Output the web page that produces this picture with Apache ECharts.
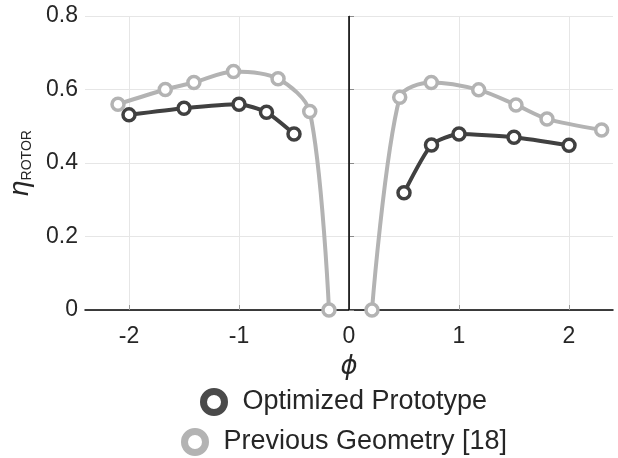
<!DOCTYPE html>
<html>
<head>
<meta charset="utf-8">
<script src="https://cdn.jsdelivr.net/npm/echarts@6/dist/echarts.min.js"></script>
<style>
html,body{margin:0;padding:0;background:#fff;}
#chart{width:618px;height:458px;}
</style>
</head>
<body>
<div id="chart"></div>
<script>
// data
var optLeft = [[-2, 0.531], [-1.5, 0.549], [-1, 0.56], [-0.75, 0.538], [-0.5, 0.479]];
var optRight = [[0.5, 0.319], [0.75, 0.449], [1, 0.479], [1.5, 0.47], [2, 0.448]];
var prevLeft = [[-2.1, 0.56], [-1.67, 0.6], [-1.41, 0.619], [-1.05, 0.649], [-0.645, 0.629], [-0.357, 0.54], [-0.182, 0]];
var prevRight = [[0.209, 0], [0.461, 0.579], [0.748, 0.619], [1.179, 0.599], [1.518, 0.558], [1.8, 0.52], [2.297, 0.49]];
var xTicks = [-2, -1, 0, 1, 2];
var yTicks = [0, 0.2, 0.4, 0.6, 0.8];

var nameOpt = 'Optimized Prototype';
var namePrev = 'Previous Geometry [18]';
var cDark = '#404040';
var cLight = '#b3b3b3';
var font = 'Liberation Sans, Arial, sans-serif';

var myChart = echarts.init(document.getElementById('chart'));

function mkSeries(name, data, color, smooth) {
    return {
        name: name,
        type: 'line',
        data: data,
        smooth: smooth,
        symbol: 'circle',
        symbolSize: 12,
        showAllSymbol: true,
        lineStyle: {color: color, width: 4},
        itemStyle: {color: '#fff', borderColor: color, borderWidth: 3.5},
        emphasis: {disabled: true},
        animation: false,
        z: color == cDark ? 4 : 3
    };
}

var series = [
    mkSeries(namePrev, prevLeft, cLight, 0.3),
    mkSeries(namePrev, prevRight, cLight, 0.3),
    mkSeries(nameOpt, optLeft, cDark, 0.2),
    mkSeries(nameOpt, optRight, cDark, 0.2)
];
// vertical line at phi = 0
series[0].markLine = {
    silent: true,
    symbol: 'none',
    label: {show: false},
    lineStyle: {color: '#000', width: 1.5, type: 'solid'},
    data: [{xAxis: 0}],
    animation: false
};

function mkLegend(name, color, left, top) {
    return {
        data: [{name: name, icon: 'circle', itemStyle: {color: '#fff', borderColor: color, borderWidth: 7}}],
        left: left, top: top,
        padding: 0,
        itemWidth: 47, itemHeight: 21,
        symbolKeepAspect: true,
        textStyle: {fontSize: 27, color: '#262626', fontFamily: font},
        selectedMode: false
    };
}

var option = {
    animation: false,
    textStyle: {fontFamily: font},
    grid: {left: 85, top: 16, right: 5, bottom: 148, containLabel: false, outerBoundsMode: 'none'},
    legend: [
        mkLegend(nameOpt, '#4a4a4a', 200, 388),
        mkLegend(namePrev, cLight, 181, 428)
    ],
    xAxis: {
        type: 'value',
        min: -2.4, max: 2.4,
        interval: 1,
        name: 'ϕ',
        nameLocation: 'middle',
        nameGap: 44,
        nameTextStyle: {fontSize: 26, fontStyle: 'italic', color: '#262626', fontFamily: 'DejaVu Sans'},
        axisLine: {show: true, onZero: false, lineStyle: {color: '#000', width: 1.5}},
        axisTick: {show: true, inside: true, length: 5, lineStyle: {color: '#999'},
            customValues: xTicks},
        axisLabel: {fontSize: 23, color: '#262626', margin: 15, customValues: xTicks,
            formatter: function (v) { return String(v); }},
        splitLine: {show: true, lineStyle: {color: '#e6e6e6', width: 1}}
    },
    yAxis: {
        type: 'value',
        min: 0, max: 0.8,
        interval: 0.2,
        name: '{a|η}{b|ROTOR}',
        nameLocation: 'middle',
        nameRotate: 90,
        nameGap: 51,
        nameTextStyle: {
            rich: {
                a: {fontSize: 28, fontStyle: 'italic', color: '#262626', fontFamily: font, verticalAlign: 'bottom'},
                b: {fontSize: 14, color: '#262626', fontFamily: font, verticalAlign: 'bottom'}
            }
        },
        axisLine: {show: true, lineStyle: {color: '#8c8c8c', width: 1}},
        axisTick: {show: true, inside: true, length: 5, lineStyle: {color: '#8c8c8c'}},
        axisLabel: {fontSize: 23, color: '#262626', margin: 7,
            formatter: function (v) { return yTicks.indexOf(+v.toFixed(1)) >= 0 ? String(+v.toFixed(1)) : ''; }},
        splitLine: {show: true, lineStyle: {color: '#e6e6e6', width: 1}}
    },
    series: series
};
myChart.setOption(option);
</script>
</body>
</html>
